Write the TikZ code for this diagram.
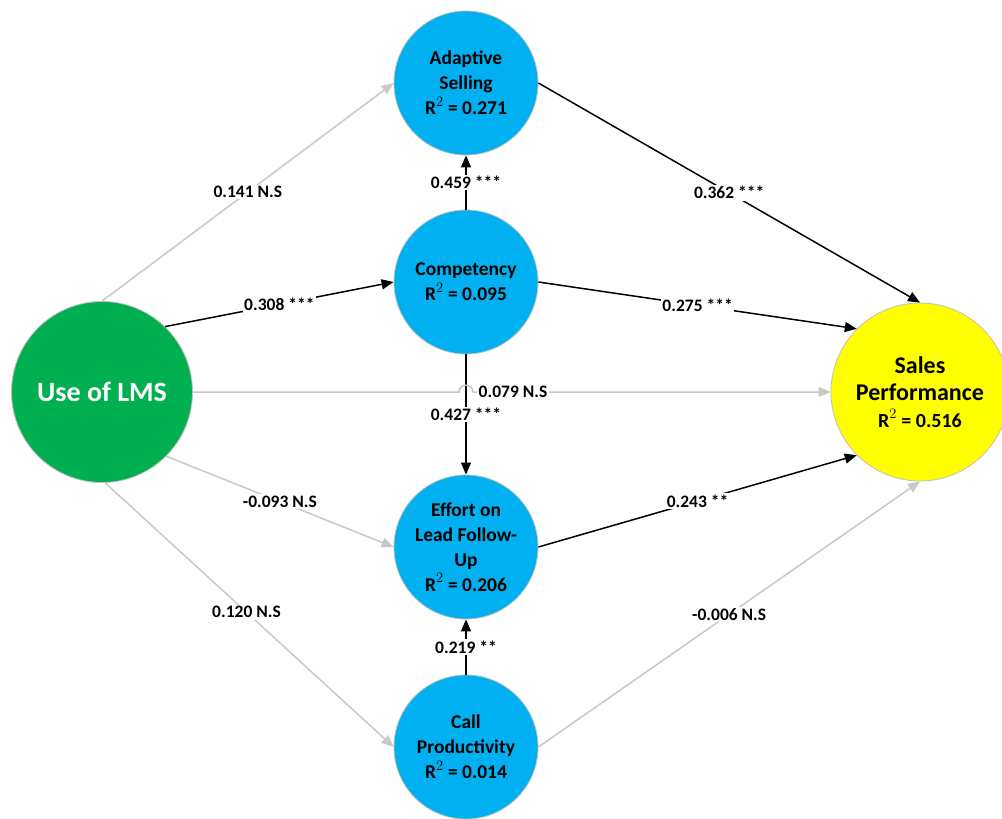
\documentclass[tikz,border=0pt]{standalone}
\usepackage{fontspec}
\setmainfont{Carlito}
\usetikzlibrary{arrows.meta}
\definecolor{lmsgreen}{HTML}{00B050}
\definecolor{latblue}{HTML}{00B0F0}
\definecolor{outyellow}{HTML}{FFFF00}
\definecolor{nsgray}{HTML}{C8C8C8}
\definecolor{rimgray}{HTML}{BFBFBF}
\tikzset{
  construct/.style={circle, draw=rimgray, line width=0.8pt, inner sep=0pt,
    align=center, font=\fontsize{19.5}{25}\selectfont\bfseries},
  latent/.style={construct, fill=latblue, minimum size=144pt},
  sigpath/.style={draw=black, line width=1.5pt,
    -{Triangle[length=12pt,width=10pt]}},
  nspath/.style={draw=nsgray, line width=1.5pt,
    -{Triangle[length=12pt,width=10pt]}},
  coef/.style={fill=white, inner sep=1.5pt,
    font=\fontsize{17.5}{20}\selectfont\bfseries}
}
\newcommand{\rsq}{R\raisebox{0.1ex}{$^{2}$}}
\begin{document}
\begin{tikzpicture}[x=1pt,y=-1pt]
\useasboundingbox (0,0) rectangle (1002,819);

% constructs
\node[construct, fill=lmsgreen, minimum size=181pt, text=white,
      font=\fontsize{28}{32}\selectfont\bfseries] (lms) at (102,392) {Use of LMS};
\node[latent] (adapt) at (466,83) {Adaptive\\Selling\\\rsq{} = 0.271};
\node[latent] (comp) at (466,282) {Competency\\\rsq{} = 0.095};
\node[latent] (effort) at (466,547) {Effort on\\Lead Follow-\\Up\\\rsq{} = 0.206};
\node[latent] (call) at (466,747) {Call\\Productivity\\\rsq{} = 0.014};
\node[construct, fill=outyellow, minimum size=178pt,
      font=\fontsize{24}{27}\selectfont\bfseries] (sales) at (920,392)
      {Sales\\Performance\\{\fontsize{20}{27}\selectfont \rsq{} = 0.516}};

% hop points where the direct path crosses the vertical path
\coordinate (hopL) at (459,392);
\coordinate (hopR) at (473,392);

% paths from Use of LMS
\draw[nspath] (lms.north) -- (adapt.west) node[coef, midway] {0.141 N.S};
\draw[sigpath] (lms.46) -- (comp.west) node[coef, midway] {0.308 ***};
\draw[nspath] (lms.-45) -- (effort.west) node[coef, midway] {-0.093 N.S};
\draw[nspath] (lms.-88) -- (call.west) node[coef, pos=0.49] {0.120 N.S};

% paths between mediators
\draw[sigpath] (comp.north) -- (adapt.south) node[coef, midway] {0.459 ***};
\draw[sigpath] (comp.south) -- (effort.north) node[coef, midway] {0.427 ***};
\draw[sigpath] (call.north) -- (effort.south) node[coef, midway] {0.219 **};

% direct path, hopping over the vertical line
\draw[nspath] (lms.east) -- (hopL) .. controls +(0,-9) and +(0,-9) .. (hopR) -- (sales.west);
\node[coef] (direct) at (513,392) {0.079 N.S};

% paths into Sales Performance
\draw[sigpath] (adapt.east) -- (sales.north) node[coef, midway] {0.362 ***};
\draw[sigpath] (comp.east) -- (sales.135) node[coef, midway] {0.275 ***};
\draw[sigpath] (effort.east) -- (sales.225) node[coef, midway] {0.243 **};
\draw[nspath] (call.east) -- (sales.south) node[coef, midway] {-0.006 N.S};
\end{tikzpicture}
\end{document}
